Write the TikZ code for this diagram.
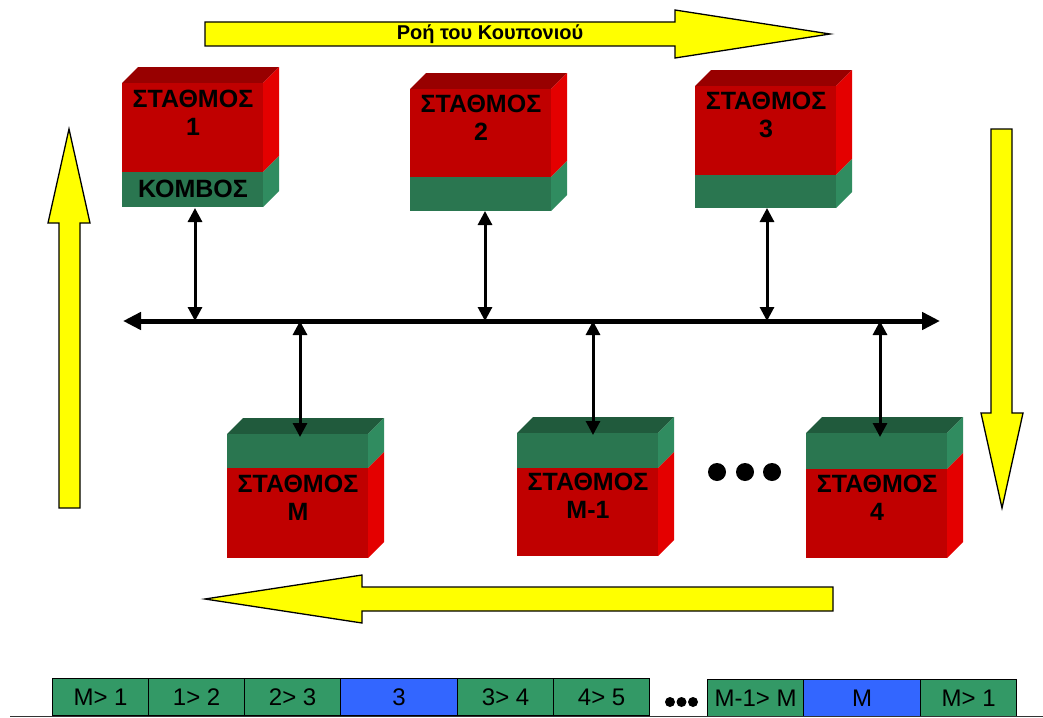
\documentclass[tikz,border=0pt]{standalone}
\usepackage{fontspec}
\setmainfont{Liberation Sans}
\usetikzlibrary{arrows.meta}

\definecolor{redfront}{RGB}{192,0,0}
\definecolor{redside}{RGB}{228,0,0}
\definecolor{redtop}{RGB}{152,0,0}
\definecolor{greenfront}{RGB}{42,118,80}
\definecolor{greenside}{RGB}{48,140,96}
\definecolor{greentop}{RGB}{32,90,60}
\definecolor{cellgreen}{RGB}{51,153,102}
\definecolor{cellblue}{RGB}{51,102,255}
\definecolor{flowyellow}{RGB}{255,255,0}

% 3-D station block: #1,#2 front top-left corner; #3 height of the upper part;
% #4 height of the lower part; #5 colour family of the upper part; #6 of the lower part
\newcommand\stationblock[6]{%
  \begin{scope}[shift={(#1,#2)}]
    \fill[#5top]   (0,0) -- (16,-16) -- (157,-16) -- (141,0) -- cycle;
    \fill[#5front] (0,0) rectangle (141,#3);
    \fill[#5side]  (141,0) -- (157,-16) -- (157,#3-16) -- (141,#3) -- cycle;
    \fill[#6front] (0,#3) rectangle (141,#3+#4);
    \fill[#6side]  (141,#3) -- (157,#3-16) -- (157,#3+#4-16) -- (141,#3+#4) -- cycle;
  \end{scope}}

\tikzset{
  stlabel/.style={font=\fontsize{25}{28}\selectfont\bfseries, align=center, inner sep=0pt, anchor=north},
  flowarrow/.style={fill=flowyellow, draw=black, line width=1.3pt, line join=miter},
  bus/.style={line width=5pt, {Triangle[width=17pt,length=18pt]}-{Triangle[width=17pt,length=18pt]}},
  link/.style={line width=3pt, {Triangle[width=14pt,length=14pt]}-{Triangle[width=14pt,length=14pt]}},
  cell/.style={draw=black, line width=1.2pt, minimum height=37pt, inner sep=0pt, anchor=north west,
    font=\fontsize{24}{24}\selectfont},
  gcell/.style={cell, fill=cellgreen, minimum width=96pt},
  bcell/.style={cell, fill=cellblue, minimum width=117pt},
}

\begin{document}
\begin{tikzpicture}[x=1pt, y=-1pt]
\useasboundingbox (0,0) rectangle (1043,717);

% token flow arrows around the ring
\draw[flowarrow] (205,22) -- (675,22) -- (675,10) -- (830,34) -- (675,58) -- (675,46) -- (205,46) -- cycle;
\node[font=\fontsize{20}{20}\selectfont\bfseries, inner sep=0pt] (flow) at (490,34) {Ροή του Κουπονιού};
\draw[flowarrow] (59,508) -- (59,223) -- (48,223) -- (69,129) -- (90,223) -- (80,223) -- (80,508) -- cycle;
\draw[flowarrow] (991,129) -- (1012,129) -- (1012,413) -- (1023,413) -- (1002,508) -- (981,413) -- (991,413) -- cycle;
\draw[flowarrow] (833,587) -- (362,587) -- (362,575) -- (205,599) -- (362,623) -- (362,611) -- (833,611) -- cycle;

% stations above the bus (station on top, node below)
\stationblock{122}{83}{89}{35}{red}{green}
\stationblock{410}{89}{88}{34}{red}{green}
\stationblock{695}{86}{89}{33}{red}{green}
\node[stlabel] (l1) at (193,90) {ΣΤΑΘΜΟΣ\\1};
\node[stlabel, anchor=center] (k1) at (193,189) {ΚΟΜΒΟΣ};
\node[stlabel] (l2) at (481,95) {ΣΤΑΘΜΟΣ\\2};
\node[stlabel] (l3) at (766,92) {ΣΤΑΘΜΟΣ\\3};

% stations below the bus (node on top, station below)
\stationblock{227}{434}{34}{90}{green}{red}
\stationblock{517}{433}{35}{88}{green}{red}
\stationblock{806}{433}{36}{89}{green}{red}
\node[stlabel] (lm) at (298,475) {ΣΤΑΘΜΟΣ\\M};
\node[stlabel] (lm1) at (588,473) {ΣΤΑΘΜΟΣ\\M-1};
\node[stlabel] (l4) at (877,475) {ΣΤΑΘΜΟΣ\\4};

% ellipsis between station M-1 and station 4
\fill (717,472) circle (9) (745,472) circle (9) (772,472) circle (9);

% the shared bus
\coordinate (busW) at (123,321);
\coordinate (busE) at (940,321);
\draw[bus] (busW) -- (busE);

% attachment points on the blocks
\coordinate (a1) at (195,208);
\coordinate (a2) at (485,211);
\coordinate (a3) at (767,208);
\coordinate (am) at (300,437);
\coordinate (am1) at (593,435);
\coordinate (a4) at (880,437);

\draw[link] (a1) -- (a1 |- busW);
\draw[link] (a2) -- (a2 |- busW);
\draw[link] (a3) -- (a3 |- busW);
\draw[link] (am) -- (am |- busW);
\draw[link] (am1) -- (am1 |- busW);
\draw[link] (a4) -- (a4 |- busW);

% token frame along the bottom
\node[gcell] (c1) at (52,678) {M> 1};
\node[gcell] (c2) at (148,678) {1> 2};
\node[gcell] (c3) at (244,678) {2> 3};
\node[bcell] (c4) at (340,678) {3};
\node[gcell] (c5) at (457,678) {3> 4};
\node[gcell] (c6) at (553,678) {4> 5};
\fill (670,702) circle (5) (681.5,702) circle (5) (693,702) circle (5);
\node[gcell] (c7) at (707,679) {M-1> M};
\node[bcell] (c8) at (803,679) {M};
\node[gcell] (c9) at (920,679) {M> 1};
\coordinate (baseW) at (10,716);
\coordinate (baseE) at (1043,716);
\draw[line width=1pt, black!80] (baseW) -- (baseE);
\end{tikzpicture}
\end{document}
